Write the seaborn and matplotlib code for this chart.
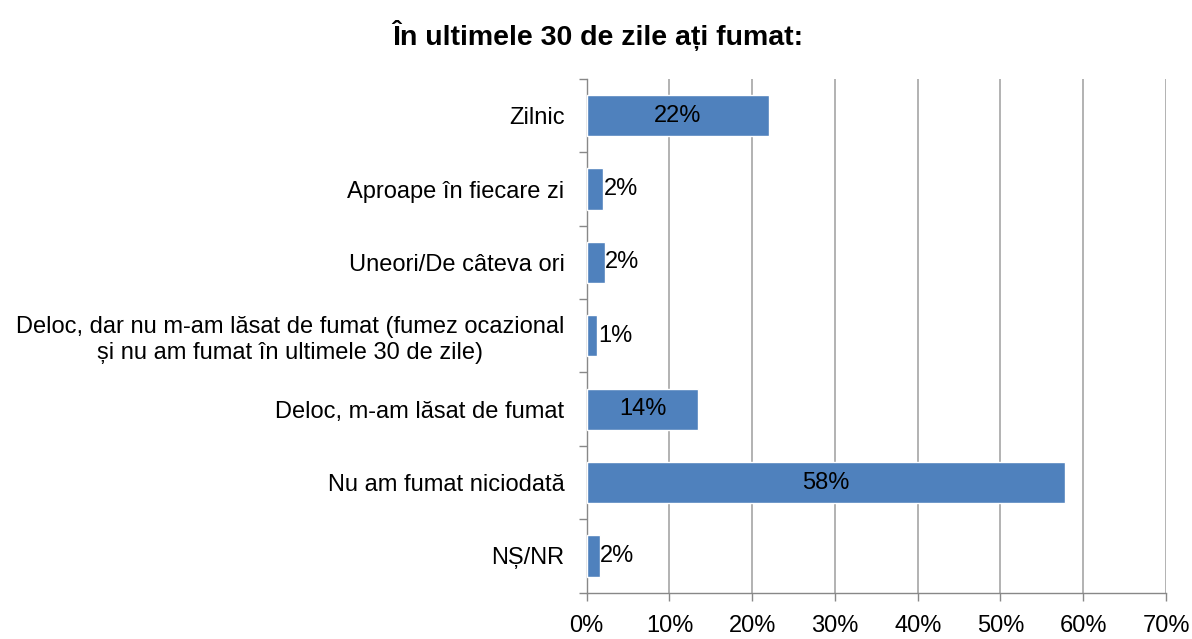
import numpy as np
import pandas as pd
import matplotlib
matplotlib.use('Agg')
import matplotlib.pyplot as plt
import seaborn as sns

# date
categorii = [
    'Zilnic',
    'Aproape în fiecare zi',
    'Uneori/De câteva ori',
    'Deloc, dar nu m-am lăsat de fumat (fumez ocazional\nși nu am fumat în ultimele 30 de zile)',
    'Deloc, m-am lăsat de fumat',
    'Nu am fumat niciodată',
    'NȘ/NR',
]
procente = [22.0, 2.0, 2.2, 1.2, 13.5, 57.8, 1.6]
etichete = ['22%', '2%', '2%', '1%', '14%', '58%', '2%']
ticks_x = [0, 10, 20, 30, 40, 50, 60, 70]

sns.set_style('white')
plt.rcParams['font.family'] = ['Liberation Sans', 'DejaVu Sans']
plt.rcParams['text.color'] = 'black'
plt.rcParams['xtick.color'] = '#888888'
plt.rcParams['ytick.color'] = '#888888'
plt.rcParams['xtick.labelcolor'] = 'black'
plt.rcParams['ytick.labelcolor'] = 'black'

df = pd.DataFrame({'categorie': categorii, 'procent': procente})

fig = plt.figure(figsize=(11.92, 6.39), dpi=100)
ax = fig.add_axes([0.4922, 0.0725, 0.4860, 0.8040])

sns.barplot(data=df, x='procent', y='categorie', color='#4F81BD',
            saturation=1, width=0.56, ax=ax, zorder=3)

ax.set_xlim(0, 70)
ax.set_ylim(6.5, -0.5)
ax.set_xticks(ticks_x)
ax.set_xticklabels([f'{t}%' for t in ticks_x], fontsize=17)
ax.xaxis.grid(True, color='#A6A6A6', linewidth=1.2, zorder=0)
ax.set_axisbelow(True)
ax.set_xlabel('')
ax.set_ylabel('')

# tick-uri intre categorii (stil Excel)
ax.set_yticks(range(len(categorii)))
ax.set_yticklabels(categorii, fontsize=17, multialignment='center')
ax.set_yticks(np.arange(-0.5, len(categorii)), minor=True)
ax.tick_params(axis='y', which='major', length=0, pad=16)
ax.tick_params(axis='y', which='minor', length=6, width=1, direction='out', left=True)
ax.tick_params(axis='x', length=6, width=1, direction='out', bottom=True, pad=10)

for s in ['top', 'right']:
    ax.spines[s].set_visible(False)
for s in ['left', 'bottom']:
    ax.spines[s].set_color('#888888')
    ax.spines[s].set_linewidth(1)

# etichete de date
for i, (v, et) in enumerate(zip(procente, etichete)):
    if v > 10:
        ax.text(v / 2, i, et, ha='center', va='center', fontsize=17, zorder=4)
    elif v < 1.5:
        ax.text(v + 0.25, i, et, ha='left', va='center', fontsize=17, zorder=4)
    else:
        ax.text(v + 0.05, i, et, ha='left', va='center', fontsize=17, zorder=4)

fig.text(0.501, 0.945, 'În ultimele 30 de zile ați fumat:', ha='center', va='center',
         fontsize=20.5, fontweight='bold')

fig.savefig('out.png', dpi=100)
